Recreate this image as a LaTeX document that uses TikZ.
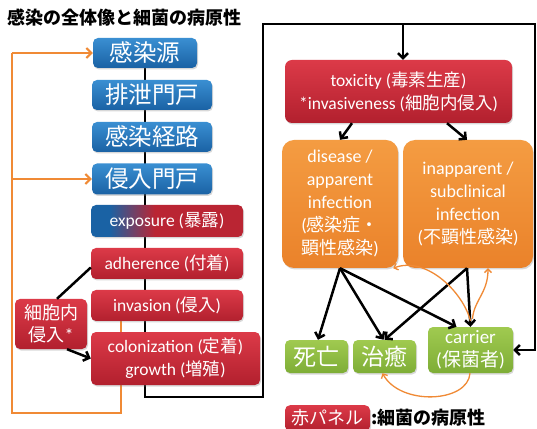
\documentclass[tikz,border=0pt]{standalone}
\usepackage{fontspec}
\setmainfont{Carlito}
\newfontfamily\cjk{Noto Sans CJK JP}
\newcommand\J[1]{{\cjk #1}}
\usetikzlibrary{arrows.meta,shadows,backgrounds}
\definecolor{bluetop}{HTML}{3A8FD2}
\definecolor{bluebot}{HTML}{1A62A4}
\definecolor{redtop}{HTML}{DC3A48}
\definecolor{redbot}{HTML}{B2202E}
\definecolor{orgtop}{HTML}{F49C42}
\definecolor{orgbot}{HTML}{EA822A}
\definecolor{grntop}{HTML}{A0CA50}
\definecolor{grnbot}{HTML}{7EAD36}
\definecolor{orgline}{HTML}{F08A35}
\pgfdeclarehorizontalshading{expshade}{100bp}{color(0bp)=(bluebot); color(31bp)=(bluebot); color(46bp)=(redbot!80!redtop); color(100bp)=(redbot!80!redtop)}
\begin{document}
\begin{tikzpicture}[x=1pt,y=1pt,
  box/.style={rounded corners=5pt, text=white, align=center, inner sep=0pt,
    drop shadow={opacity=0.3,shadow xshift=1pt,shadow yshift=-1.5pt}},
  bluebox/.style={box, top color=bluetop, bottom color=bluebot, minimum width=120pt,
    minimum height=30pt, font=\cjk\fontsize{23.5}{25}\selectfont},
  redbox/.style={box, top color=redtop, bottom color=redbot, minimum width=152pt,
    minimum height=31pt, font=\fontsize{17.5}{23}\selectfont},
  orgbox/.style={box, rounded corners=12pt, top color=orgtop, bottom color=orgbot,
    minimum height=128pt, font=\fontsize{18}{23}\selectfont},
  grnbox/.style={box, top color=grntop, bottom color=grnbot, minimum height=33pt},
  blk/.style={line width=2.5pt, -{Straight Barb[length=5pt,width=10pt]}},
  orgthick/.style={draw=orgline, line width=2pt},
  orgarr/.style={orgthick, -{Straight Barb[length=5pt,width=10pt]}},
  orgthin/.style={draw=orgline, line width=1.3pt, -{Straight Barb[length=3.5pt,width=7pt]}}
]
\useasboundingbox (0,0) rectangle (537,428);
\node[anchor=west, inner sep=0pt, font=\cjk\bfseries\fontsize{18}{20}\selectfont] (title) at (7,410) {感染の全体像と細菌の病原性};

\node[bluebox, minimum width=104pt] (src) at (145,375) {感染源};
\node[bluebox] (exit) at (152,333) {排泄門戸};
\node[bluebox] (route) at (152,291) {感染経路};
\node[bluebox, minimum height=31pt] (entry) at (152,249) {侵入門戸};

\node[box, shade, shading=expshade, minimum width=152pt, minimum height=32pt,
  font=\fontsize{17.5}{23}\selectfont] (expo) at (167,207) {exposure (\J{暴露})};
\node[redbox] (adh) at (167,164.5) {adherence (\J{付着})};
\node[redbox] (inv) at (167,122.5) {invasion (\J{侵入})};
\node[redbox, minimum width=169pt, minimum height=53pt] (col) at (175.5,69.5)
  {colonization (\J{定着})\\growth (\J{増殖})};
\node[redbox, minimum width=72pt, minimum height=50pt, font=\cjk\fontsize{18}{22}\selectfont]
  (intra) at (51,104) {細胞内\\侵入{\rmfamily*}};

\node[redbox, minimum width=227pt, minimum height=63pt, rounded corners=7pt,
  font=\fontsize{17.5}{23}\selectfont] (tox) at (398.5,336.5)
  {toxicity (\J{毒素生産})\\*invasiveness (\J{細胞内侵入})};
\node[orgbox, minimum width=116pt] (dis) at (340,224)
  {disease /\\apparent\\infection\\(\J{感染症・}\\\J{顕性感染})};
\node[orgbox, minimum width=130pt] (inap) at (468,224)
  {inapparent /\\subclinical\\infection\\(\J{不顕性感染})};

\node[grnbox, minimum width=63pt, font=\cjk\fontsize{23}{25}\selectfont] (death) at (316.5,71.5) {死亡};
\node[grnbox, minimum width=63pt, font=\cjk\fontsize{23}{25}\selectfont] (cure) at (384.5,71.5) {治癒};
\node[grnbox, minimum width=85pt, minimum height=46pt, font=\fontsize{19}{23}\selectfont]
  (carrier) at (470.5,78) {carrier\\(\J{保菌者})};

\node[box, top color=redtop, bottom color=redbot, minimum width=85pt, minimum height=26pt,
  font=\cjk\fontsize{18}{20}\selectfont, anchor=north] (leg) at (327.5,23) {赤パネル};
\node[anchor=west, inner sep=0pt, font=\cjk\bfseries\fontsize{18}{20}\selectfont] (legt) at (371,10) {:細菌の病原性};

\coordinate (c1) at (145,31);
\coordinate (c2) at (263,31);
\coordinate (c3) at (263,404);
\coordinate (c4) at (535,404);
\coordinate (c5) at (535,78);
\coordinate (ctop) at (403,404);
\coordinate (oa) at (121,108);
\coordinate (ob) at (121,15);
\coordinate (oc) at (12,15);
\coordinate (od) at (12,375);
\coordinate (oe) at (12,249);

\begin{pgfonlayer}{background}
\fill[white] (0,0) rectangle (537,428);
\draw[blk, line join=miter] (src.south) -- (c1) -- (c2) -- (c3) -- (c4) -- (c5) -- (carrier.east);
\draw[orgthick] (oa) -- (ob) -- (oc) -- (od);
\draw[orgarr] (od) -- (src.west);
\draw[orgarr] (oe) -- (entry.west);
\end{pgfonlayer}

\draw[blk] (ctop) -- (ctop |- tox.north);
\draw[line width=2.5pt] ([yshift=-4pt]adh.west) -- ([xshift=6pt]intra.north);
\draw[blk] ([xshift=16pt]intra.south) -- (col.west);

\draw[blk] ([xshift=-46.5pt]tox.south) -- (dis.north);
\draw[blk] ([xshift=48.5pt]tox.south) -- ([xshift=-1pt]inap.north);

\draw[blk] (dis.south) -- ([xshift=1.5pt]death.north);
\draw[blk] (dis.south) -- ([xshift=-1pt]cure.north);
\draw[blk] (dis.south) -- ([xshift=-14pt]carrier.north);
\draw[blk] ([xshift=-1pt]inap.south) -- ([xshift=0pt]cure.north);
\draw[blk] ([xshift=-1pt]inap.south) -- (carrier.north);

\draw[orgthin] ([yshift=6pt]carrier.north) .. controls (462,138) and (425,172) .. ([xshift=-5pt]dis.south east);
\draw[orgthin] ([xshift=2pt,yshift=8pt]carrier.north) .. controls (474,128) and (488,135) .. ([xshift=20pt]inap.south);
\draw[orgthin] ([xshift=-0.5pt]carrier.south) .. controls (468,25) and (400,22) .. ([xshift=-2pt]cure.south);
\end{tikzpicture}
\end{document}
